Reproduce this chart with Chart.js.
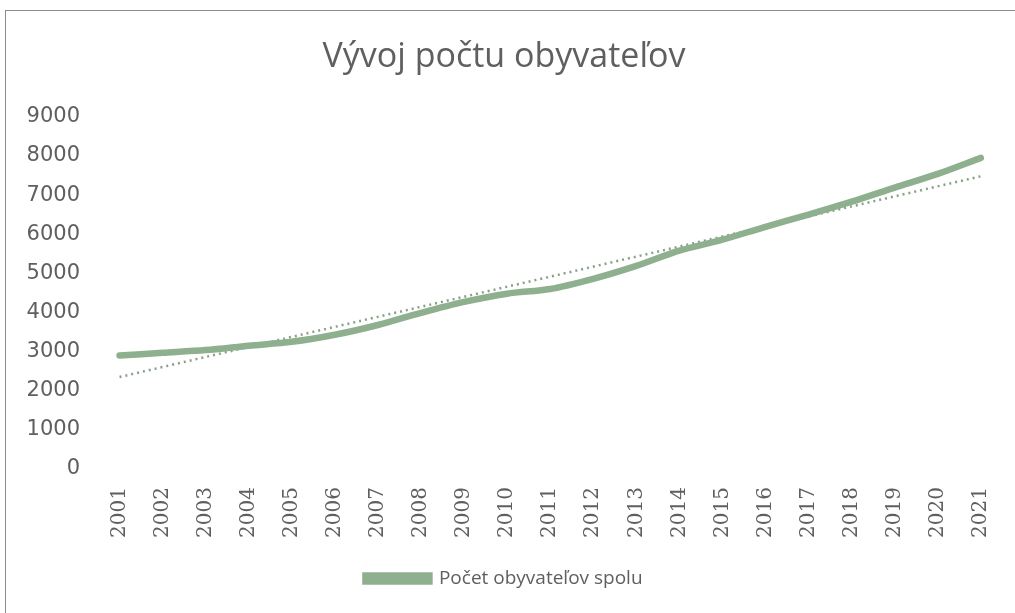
<!DOCTYPE html>
<html>
<head>
<meta charset="utf-8">
<script src="https://cdn.jsdelivr.net/npm/chart.js@4/dist/chart.umd.min.js"></script>
<style>
  html, body { margin: 0; padding: 0; background: #fff; }
  #wrap { position: relative; width: 1015px; height: 613px; }
  #frame { position: absolute; left: 5px; top: 10px; width: 1020px; height: 620px; border: 1px solid #8c8c8c; box-sizing: border-box; }
  canvas { position: absolute; left: 0; top: 0; }
</style>
</head>
<body>
<div id="wrap">
  <div id="frame"></div>
  <canvas id="myChart" width="1015" height="613"></canvas>
</div>
<script>
// roky a hodnoty odčítané z grafu
var years = ['2001', '2002', '2003', '2004', '2005', '2006', '2007', '2008', '2009', '2010', '2011',
  '2012', '2013', '2014', '2015', '2016', '2017', '2018', '2019', '2020', '2021']
var population = [2900, 2970, 3040, 3150, 3250, 3430, 3680, 3990, 4270, 4480, 4600,
  4860, 5190, 5580, 5860, 6190, 6500, 6830, 7190, 7540, 7950]
// lineárny trend - začiatok a koniec
var trend = [2350, null, null, null, null, null, null, null, null, null, null,
  null, null, null, null, null, null, null, null, null, 7480]
var yTicks = [0, 1000, 2000, 3000, 4000, 5000, 6000, 7000, 8000, 9000]

var green = 'rgb(143, 176, 143)'
var textGray = '#5f5f5f'

var ctx = document.getElementById('myChart').getContext('2d')
var chart = new Chart(ctx, {
  type: 'line',
  data: {
    labels: years,
    datasets: [{
      label: 'Počet obyvateľov spolu',
      data: population,
      borderColor: green,
      backgroundColor: green,
      borderWidth: 6.5,
      pointRadius: 0,
      tension: 0.3,
      borderCapStyle: 'round'
    }, {
      label: 'trend',
      data: trend,
      spanGaps: true,
      borderColor: 'rgb(135, 160, 135)',
      borderWidth: 2.5,
      borderDash: [2, 4],
      pointRadius: 0
    }]
  },
  options: {
    responsive: false,
    animation: false,
    layout: { padding: { left: 0, right: 7, top: 0, bottom: 15 } },
    plugins: {
      title: {
        display: true,
        text: 'Vývoj počtu obyvateľov',
        color: textGray,
        font: { family: 'Open Sans', size: 34, weight: 'normal' },
        padding: { top: 37, bottom: 39 }
      },
      legend: {
        position: 'bottom',
        labels: {
          color: textGray,
          font: { family: 'Open Sans', size: 19 },
          boxWidth: 64,
          boxHeight: 6,
          padding: 14,
          filter: function (item) { return item.datasetIndex === 0 }
        }
      },
      tooltip: { enabled: false }
    },
    scales: {
      x: {
        offset: true,
        grid: { display: false },
        border: { display: false },
        afterFit: function (axis) { axis.height = 86 },
        ticks: {
          color: textGray,
          font: { family: 'DejaVu Serif', size: 20 },
          minRotation: 90,
          maxRotation: 90,
          padding: 10
        }
      },
      y: {
        min: 0,
        max: 9000,
        afterBuildTicks: function (axis) {
          axis.ticks = yTicks.map(function (v) { return { value: v } })
        },
        afterFit: function (axis) { axis.width = 98 },
        grid: { display: false },
        border: { display: false },
        ticks: {
          color: textGray,
          font: { family: 'DejaVu Sans', size: 21 },
          padding: 10,
          callback: function (v) { return String(v) }
        }
      }
    }
  }
})
</script>
</body>
</html>
